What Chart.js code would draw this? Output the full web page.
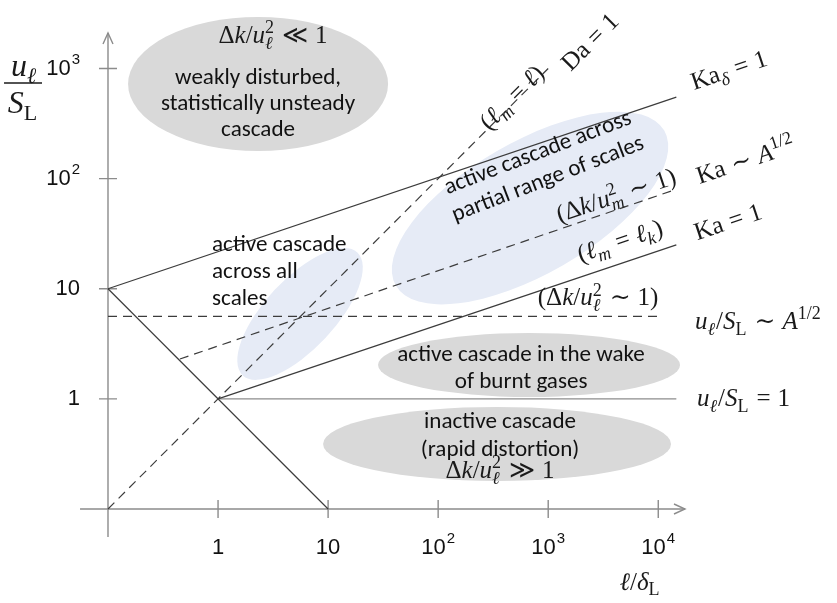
<!DOCTYPE html>
<html>
<head>
<meta charset="utf-8">
<script src="https://cdn.jsdelivr.net/npm/chart.js@4.4.1/dist/chart.umd.min.js"></script>
<style>
  html, body { margin: 0; padding: 0; background: #fff; }
</style>
</head>
<body>
<canvas id="myChart" width="837" height="603"></canvas>
<script>
// decades on both axes
const xTicks = [1, 10, 100, 1000, 10000];
const yTicks = [1, 10, 100, 1000];
const xTickText = ['1', '10', '10|2', '10|3', '10|4'];
const yTickText = ['1', '10', '10|2', '10|3'];

// regime boundaries, l/dL vs u/SL
const kaDeltaX = [0.1, 14600], kaDeltaY = [10, 550];   // Ka_delta = 1
const ka1X = [1, 14600], ka1Y = [1, 25];               // Ka = 1
const kaAX = [0.45, 14600], kaAY = [2.3, 80];          // Ka ~ A^1/2
const daX = [0.1, 1000], daY = [0.1, 1000];            // Da = 1
const flameX = [0.1, 10], flameY = [10, 0.1];          // l u = const
const unitX = [1, 14600], unitY = [1, 1];              // u/SL = 1
const uAX = [0.1, 11000], uAY = [5.6, 5.6];            // u/SL ~ A^1/2

// shaded regions (centres)
const regionX = [2.31, 684, 5.56, 670, 343];
const regionY = [723, 54, 5.9, 2.03, 0.39];

const GRAY = '#d9d9d9';
const BLUE = '#e6ebf6';
const LINE = '#3c3c3c';
const AXIS = '#8c8c8c';

const pts = (xs, ys) => xs.map((x, i) => ({ x: x, y: ys[i] }));

// math label helper -------------------------------------------------------
const SERIF = '"Liberation Serif", "DejaVu Serif", serif';
function mfont(kind, size) {
  const it = (kind === 'i' || kind === 'si') ? 'italic ' : '';
  return it + size + 'px ' + SERIF;
}
function mathWidth(ctx, toks, M) {
  let w = 0;
  toks.forEach(t => w += tokWidth(ctx, t, M));
  return w;
}
function tokWidth(ctx, t, M) {
  const s = Math.round(M * 0.7);
  if (t[1] === 'r' || t[1] === 'i') { ctx.font = mfont(t[1], M); return ctx.measureText(t[0]).width; }
  if (t[1] === 'rel') { ctx.font = mfont('r', M); return ctx.measureText(t[0]).width + M * 0.56; }
  if (t[1] === 'ss') {
    ctx.font = mfont('r', s); const a = ctx.measureText(t[0]).width;
    ctx.font = mfont('i', s); const b = ctx.measureText(t[2]).width;
    return Math.max(a, b) + 1;
  }
  ctx.font = mfont(t[1], s);
  return ctx.measureText(t[0]).width + 1;
}
function drawMath(ctx, toks, x, y, M, align, rot) {
  ctx.save();
  ctx.translate(x, y);
  ctx.rotate((rot || 0) * Math.PI / 180);
  const w = mathWidth(ctx, toks, M);
  let cx = align === 'left' ? 0 : -w / 2;
  const base = M * 0.3;
  const s = Math.round(M * 0.7);
  ctx.fillStyle = '#1a1a1a';
  ctx.textBaseline = 'alphabetic';
  ctx.textAlign = 'left';
  toks.forEach(t => {
    const k = t[1];
    if (k === 'r' || k === 'i') {
      ctx.font = mfont(k, M); ctx.fillText(t[0], cx, base);
    } else if (k === 'rel') {
      ctx.font = mfont('r', M); ctx.fillText(t[0], cx + M * 0.28, base);
    } else if (k === 'ss') {
      ctx.font = mfont('r', s); ctx.fillText(t[0], cx, base - M * 0.38);
      ctx.font = mfont('i', s); ctx.fillText(t[2], cx, base + M * 0.24);
    } else if (k === 'sp') {
      ctx.font = mfont('r', s); ctx.fillText(t[0], cx, base - M * 0.4);
    } else {
      ctx.font = mfont(k === 'si' ? 'i' : 'r', s); ctx.fillText(t[0], cx, base + M * 0.22);
    }
    cx += tokWidth(ctx, t, M);
  });
  ctx.restore();
}

const mathLabels = [
  { toks: [['Δ', 'r'], ['k', 'i'], ['/', 'r'], ['u', 'i'], ['2', 'ss', 'ℓ'], ['≪', 'rel'], ['1', 'r']], x: 3.16, y: 2000, rot: 0 },
  { toks: [['Δ', 'r'], ['k', 'i'], ['/', 'r'], ['u', 'i'], ['2', 'ss', 'ℓ'], ['≫', 'rel'], ['1', 'r']], x: 365, y: 0.224, rot: 0 },
  { toks: [['ℓ', 'i'], ['/', 'r'], ['δ', 'i'], ['L', 'sr']], x: 6840, y: 0.0216, rot: 0 },
  { toks: [['(Δ', 'r'], ['k', 'i'], ['/', 'r'], ['u', 'i'], ['2', 'ss', 'ℓ'], ['∼', 'rel'], ['1)', 'r']], x: 2840, y: 8.25, rot: 0 },
  { toks: [['u', 'i'], ['ℓ', 'si'], ['/', 'r'], ['S', 'i'], ['L', 'sr'], ['∼', 'rel'], ['A', 'i'], ['1/2', 'sp']], x: 21600, y: 4.99, rot: 0, align: 'left' },
  { toks: [['u', 'i'], ['ℓ', 'si'], ['/', 'r'], ['S', 'i'], ['L', 'sr'], ['=', 'rel'], ['1', 'r']], x: 22500, y: 1.0, rot: 0, align: 'left' },
  { toks: [['Ka', 'r'], ['δ', 'si'], ['=', 'rel'], ['1', 'r']], x: 44000, y: 960, rot: -18.4 },
  { toks: [['Ka', 'r'], ['∼', 'rel'], ['A', 'i'], ['1/2', 'sp']], x: 62800, y: 146, rot: -18.4 },
  { toks: [['Ka', 'r'], ['=', 'rel'], ['1', 'r']], x: 43100, y: 40.3, rot: -18.4 },
  { toks: [['(Δ', 'r'], ['k', 'i'], ['/', 'r'], ['u', 'i'], ['2', 'ss', 'm'], ['∼', 'rel'], ['1)', 'r']], x: 4150, y: 70, rot: -18.4 },
  { toks: [['(', 'r'], ['ℓ', 'i'], ['m', 'si'], ['=', 'rel'], ['ℓ', 'i'], ['k', 'si'], [')', 'r']], x: 4500, y: 27, rot: -18.4 },
  { toks: [['(', 'r'], ['ℓ', 'i'], ['m', 'si'], ['=', 'rel'], ['ℓ', 'i'], [')', 'r']], x: 470, y: 542, rot: -45 },
  { toks: [['Da', 'r'], ['=', 'rel'], ['1', 'r']], x: 2400, y: 1740, rot: -45 }
];

// plain annotation blocks
const notes = [
  { lines: ['weakly disturbed,', 'statistically unsteady', 'cascade'], x: 2.31, y: 476, gap: 26, rot: 0 },
  { lines: ['active cascade', 'across all', 'scales'], x: 0.882, y: 14.2, gap: 27, rot: 0, align: 'left' },
  { lines: ['active cascade across', 'partial range of scales'], x: 898, y: 129, gap: 28, rot: -21 },
  { lines: ['active cascade in the wake', 'of burnt gases'], x: 567, y: 1.89, gap: 27, rot: 0 },
  { lines: ['inactive cascade', '(rapid distortion)'], x: 365, y: 0.46, gap: 28, rot: 0 }
];

const regionStyle = [
  { rx: 130, ry: 67, rot: 0, c: GRAY },
  { rx: 155, ry: 66, rot: -30, c: BLUE },
  { rx: 84, ry: 35, rot: -47, c: BLUE },
  { rx: 151, ry: 32, rot: 0, c: GRAY },
  { rx: 174, ry: 37, rot: 0, c: GRAY }
];

const regimePlugin = {
  id: 'regime',
  beforeDatasetsDraw(chart) {
    const ctx = chart.ctx, xs = chart.scales.x, ys = chart.scales.y;
    ctx.save();
    regionX.forEach((v, i) => {
      const st = regionStyle[i];
      ctx.beginPath();
      ctx.ellipse(xs.getPixelForValue(v), ys.getPixelForValue(regionY[i]), st.rx, st.ry, st.rot * Math.PI / 180, 0, Math.PI * 2);
      ctx.fillStyle = st.c;
      ctx.fill();
    });

    // axes with arrows
    const x0 = xs.getPixelForValue(0.1), y0 = ys.getPixelForValue(0.1);
    const xEnd = chart.chartArea.right, yEnd = chart.chartArea.top;
    ctx.strokeStyle = AXIS;
    ctx.lineWidth = 1.4;
    ctx.beginPath();
    ctx.moveTo(xs.getPixelForValue(0.0557), y0); ctx.lineTo(xEnd, y0);
    ctx.moveTo(x0, ys.getPixelForValue(0.0557)); ctx.lineTo(x0, yEnd);
    ctx.stroke();
    ctx.beginPath();
    ctx.moveTo(xEnd - 11, y0 - 5); ctx.lineTo(xEnd, y0); ctx.lineTo(xEnd - 11, y0 + 5);
    ctx.moveTo(x0 - 5, yEnd + 11); ctx.lineTo(x0, yEnd); ctx.lineTo(x0 + 5, yEnd + 11);
    ctx.stroke();
    ctx.beginPath();
    xTicks.forEach(v => { const p = xs.getPixelForValue(v); ctx.moveTo(p, y0 - 9); ctx.lineTo(p, y0 + 9); });
    yTicks.forEach(v => { const p = ys.getPixelForValue(v); ctx.moveTo(x0 - 9, p); ctx.lineTo(x0 + 9, p); });
    ctx.stroke();

    // tick labels
    const tl = (txt, x, y, align) => {
      const [b, e] = txt.split('|');
      ctx.font = '22px "Liberation Sans", Arial, sans-serif';
      const wb = ctx.measureText(b).width;
      let we = 0;
      if (e) { ctx.font = '15px "Liberation Sans", Arial, sans-serif'; we = ctx.measureText(e).width + 1; }
      let sx = align === 'right' ? x - wb - we : x - (wb + we) / 2;
      ctx.fillStyle = '#111';
      ctx.textAlign = 'left';
      ctx.textBaseline = 'middle';
      ctx.font = '22px "Liberation Sans", Arial, sans-serif';
      ctx.fillText(b, sx, y);
      if (e) { ctx.font = '15px "Liberation Sans", Arial, sans-serif'; ctx.fillText(e, sx + wb + 1, y - 9); }
    };
    xTicks.forEach((v, i) => tl(xTickText[i], xs.getPixelForValue(v), ys.getPixelForValue(0.0442), 'center'));
    yTicks.forEach((v, i) => tl(yTickText[i], xs.getPixelForValue(0.0557), ys.getPixelForValue(v), 'right'));
    ctx.restore();
  },
  afterDatasetsDraw(chart) {
    const ctx = chart.ctx, xs = chart.scales.x, ys = chart.scales.y;
    ctx.save();
    mathLabels.forEach(l => drawMath(ctx, l.toks, xs.getPixelForValue(l.x), ys.getPixelForValue(l.y), 25, l.align, l.rot));

    // y axis title as a fraction
    const fx = xs.getPixelForValue(0.0169), fy = ys.getPixelForValue(739);
    drawMath(ctx, [['u', 'i'], ['ℓ', 'si']], fx + 1, fy - 17, 32, 'center', 0);
    drawMath(ctx, [['S', 'i'], ['L', 'sr']], fx, fy + 20, 32, 'center', 0);
    ctx.strokeStyle = '#1a1a1a';
    ctx.lineWidth = 1.4;
    ctx.beginPath(); ctx.moveTo(fx - 19, fy); ctx.lineTo(fx + 19, fy); ctx.stroke();

    // sans annotations, sized to the reference line width
    const fam = 'Carlito, Lato, "Open Sans", sans-serif';
    ctx.font = '20px ' + fam;
    const size = 20 * 248 / ctx.measureText('active cascade in the wake').width;
    ctx.font = size.toFixed(1) + 'px ' + fam;
    ctx.fillStyle = '#111';
    ctx.textBaseline = 'middle';
    notes.forEach(n => {
      ctx.save();
      ctx.translate(xs.getPixelForValue(n.x), ys.getPixelForValue(n.y));
      ctx.rotate(n.rot * Math.PI / 180);
      ctx.textAlign = n.align || 'center';
      const h = (n.lines.length - 1) * n.gap / 2;
      n.lines.forEach((t, i) => ctx.fillText(t, 0, -h + i * n.gap));
      ctx.restore();
    });
    ctx.restore();
  }
};

const line = (d, dash, color) => ({
  data: d, showLine: true, pointRadius: 0, borderColor: color || LINE,
  borderWidth: 1.2, borderDash: dash ? [9, 6] : [], fill: false, clip: false
});

const ctx = document.getElementById('myChart').getContext('2d');
const myChart = new Chart(ctx, {
  type: 'scatter',
  data: {
    datasets: [
      line(pts(kaDeltaX, kaDeltaY), false),
      line(pts(ka1X, ka1Y), false),
      line(pts(kaAX, kaAY), true),
      line(pts(daX, daY), true),
      line(pts(flameX, flameY), false),
      line(pts(unitX, unitY), false, AXIS),
      line(pts(uAX, uAY), true)
    ]
  },
  options: {
    responsive: false,
    animation: false,
    devicePixelRatio: 1,
    layout: { padding: { left: 108, right: 152, top: 33, bottom: 94 } },
    scales: {
      x: { type: 'logarithmic', min: 0.1, max: 17500, display: false },
      y: { type: 'logarithmic', min: 0.1, max: 2100, display: false }
    },
    plugins: { legend: { display: false }, tooltip: { enabled: false } }
  },
  plugins: [regimePlugin]
});
</script>
</body>
</html>
